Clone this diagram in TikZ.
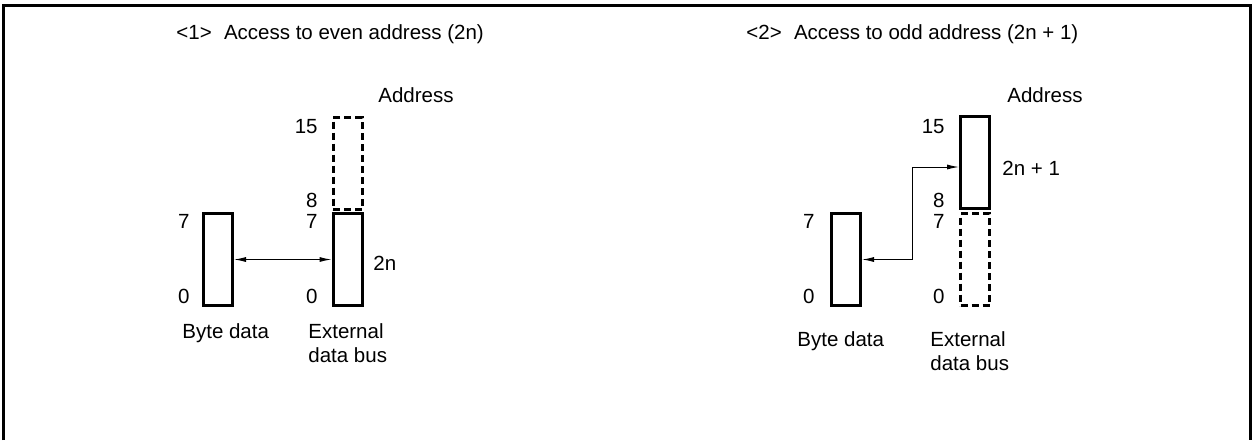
\documentclass[tikz,border=0pt]{standalone}
\usepackage{fontspec}
\setmainfont{Liberation Sans}
\usetikzlibrary{arrows.meta}
\begin{document}
\begin{tikzpicture}[x=0.5pt,y=-0.5pt, font=\fontsize{10.25}{12}\selectfont,
  box/.style={draw, line width=1.5pt, minimum width=14.5pt, minimum height=46pt, inner sep=0pt},
  dbox/.style={box, dash pattern=on 3.5pt off 2pt},
  lbl/.style={inner sep=0pt, anchor=base east},
  txt/.style={inner sep=0pt, anchor=base west, align=left},
  conn/.style={line width=0.5pt, {Latex[length=6pt,width=2.5pt]}-{Latex[length=6pt,width=2.5pt]}}]
\useasboundingbox (0,0) rectangle (1254,440);
% frame (open at bottom)
\draw[line width=1.5pt] (3.5,440) -- (3.5,5) -- (1250.5,5) -- (1250.5,440);

% ---------- <1> ----------
\node[txt] (t1) at (176,39) {<1>\hspace{0.6em}Access to even address (2n)};
\node[txt] (addr1) at (378,102) {Address};
\node[dbox] (hi1) at (347.5,163.5) {};
\node[box, fill=white] (lo1) at (347.5,259.5) {};
\node[box] (bd1) at (218,259.5) {};
\draw[conn] (bd1.east) -- (lo1.west);
\node[lbl] (n15a) at (318,133) {15};
\node[lbl] (n8a) at (318,207) {8};
\node[lbl] (n7a) at (318,228) {7};
\node[lbl] (n0a) at (318,303) {0};
\node[lbl] (m7a) at (190,228) {7};
\node[lbl] (m0a) at (190,303) {0};
\node[txt] (v1) at (373,270) {2n};
\node[txt] (bl1) at (182,338) {Byte data};
\node[txt] (el1) at (308,362) {External\\data bus};

% ---------- <2> ----------
\node[txt] (t2) at (746,39) {<2>\hspace{0.6em}Access to odd address (2n + 1)};
\node[txt] (addr2) at (1007,102) {Address};
\node[dbox] (lo2) at (975,259.5) {};
\node[box, fill=white] (hi2) at (975,162.5) {};
\node[box] (bd2) at (846,259.5) {};
\coordinate (bend) at (912,259.5);
\draw[conn] (bd2.east) -- (bend) |- ([yshift=-2.25pt]hi2.west);
\node[lbl] (n15b) at (945,133) {15};
\node[lbl] (n8b) at (945,207) {8};
\node[lbl] (n7b) at (945,228) {7};
\node[lbl] (n0b) at (945,303) {0};
\node[lbl] (m7b) at (815,228) {7};
\node[lbl] (m0b) at (815,303) {0};
\node[txt] (v2) at (1002,175) {2n + 1};
\node[txt] (bl2) at (797,346) {Byte data};
\node[txt] (el2) at (930,370) {External\\data bus};
\end{tikzpicture}
\end{document}
